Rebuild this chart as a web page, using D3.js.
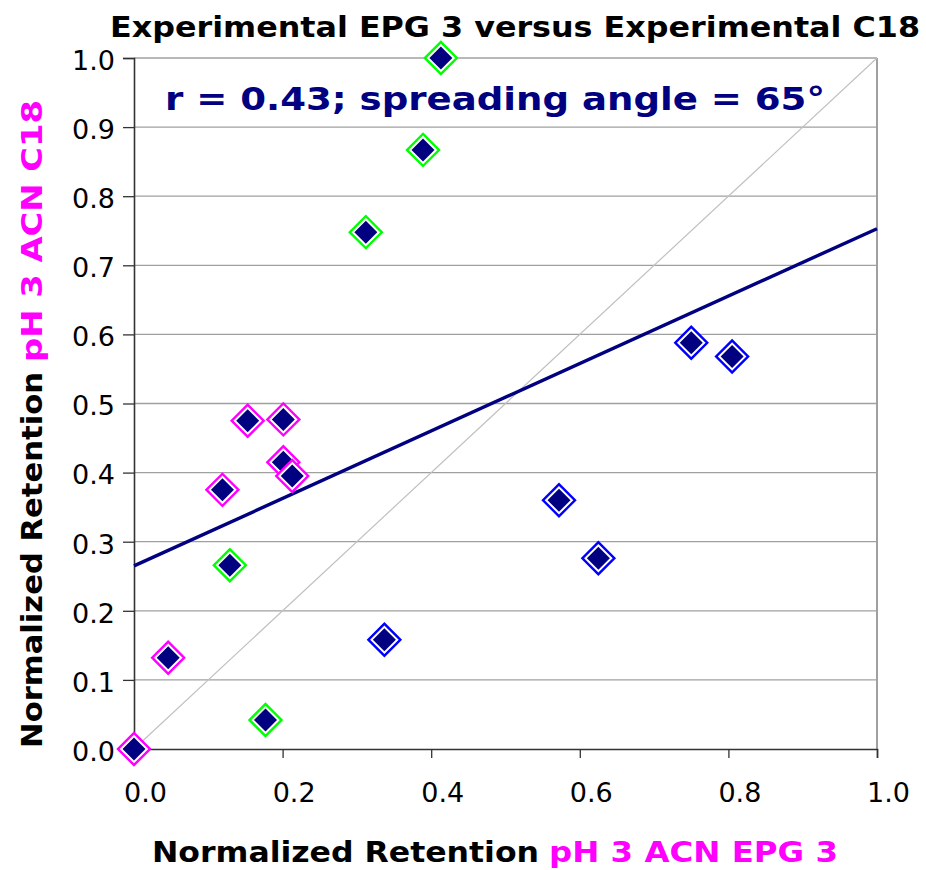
<!DOCTYPE html>
<html>
<head>
<meta charset="utf-8">
<script src="https://cdn.jsdelivr.net/npm/d3@7"></script>
<style>
  html, body { margin: 0; padding: 0; background: #fff; }
  svg { display: block; }
  text { font-family: "DejaVu Sans", Verdana, sans-serif; }
</style>
</head>
<body>
<svg id="chart" width="926" height="870"></svg>
<script>
// Normalized retention of each analyte on the two phases
const epg3 = [0.413, 0.389, 0.312, 0.750, 0.805, 0.153, 0.201, 0.201, 0.213, 0.119, 0.572, 0.625, 0.129, 0.337, 0.046, 0.177, 0.000];
const c18  = [1.000, 0.867, 0.748, 0.588, 0.568, 0.475, 0.477, 0.415, 0.395, 0.375, 0.360, 0.276, 0.266, 0.158, 0.132, 0.042, 0.000];
// Analyte class of each point (sets the outline colour)
const pointClass = ["g", "g", "g", "b", "b", "m", "m", "m", "m", "m", "b", "b", "g", "b", "m", "g", "m"];
const classColor = { g: "#00ff00", b: "#0000ff", m: "#ff00ff" };

// Linear fit shown on the chart
const fitIntercept = 0.265;
const fitSlope = 0.488;

const xTicks = [0, 0.2, 0.4, 0.6, 0.8, 1.0];
const yTicks = [0, 0.1, 0.2, 0.3, 0.4, 0.5, 0.6, 0.7, 0.8, 0.9, 1.0];

const svg = d3.select("#chart");
const L = 134, R = 877, T = 58, B = 749;

const x = d3.scaleLinear().domain([0, 1]).range([L, R]);
const y = d3.scaleLinear().domain([0, 1]).range([B, T]);

// horizontal gridlines
svg.append("g").selectAll("line").data(yTicks.filter(v => v > 0)).join("line")
  .attr("x1", L).attr("x2", R)
  .attr("y1", d => y(d)).attr("y2", d => y(d))
  .attr("stroke", "#a0a0a0").attr("stroke-width", 1.3);

// right border
svg.append("line").attr("x1", R).attr("x2", R).attr("y1", T).attr("y2", B)
  .attr("stroke", "#a0a0a0").attr("stroke-width", 2);

// y = x reference diagonal
svg.append("line")
  .attr("x1", x(0)).attr("y1", y(0)).attr("x2", x(1)).attr("y2", y(1))
  .attr("stroke", "#c0c0c0").attr("stroke-width", 1.2);

// axes
const yAxis = d3.axisLeft(y).tickValues(yTicks).tickFormat(d3.format(".1f")).tickSize(11).tickPadding(8);
const gy = svg.append("g").attr("transform", `translate(${L},0)`).call(yAxis);
gy.select(".domain").attr("stroke", "#333").attr("stroke-width", 1.6);
gy.selectAll(".tick line").attr("stroke", "#333").attr("stroke-width", 1.3);
gy.selectAll(".tick text").attr("font-size", 27).attr("fill", "#000")
  .attr("font-family", "'DejaVu Sans', Verdana, sans-serif").attr("dy", "0.42em");

const xAxis = d3.axisBottom(x).tickValues(xTicks).tickFormat(d3.format(".1f")).tickSize(9).tickPadding(24);
const gx = svg.append("g").attr("transform", `translate(0,${B})`).call(xAxis);
gx.select(".domain").attr("stroke", "#333").attr("stroke-width", 1.6);
gx.selectAll(".tick line").attr("stroke", "#333").attr("stroke-width", 1.3);
gx.selectAll(".tick text").attr("font-size", 27).attr("fill", "#000")
  .attr("font-family", "'DejaVu Sans', Verdana, sans-serif").attr("dx", 11).attr("dy", "0.75em");

// fitted line
svg.append("line")
  .attr("x1", x(0)).attr("y1", y(fitIntercept))
  .attr("x2", x(1)).attr("y2", y(fitIntercept + fitSlope))
  .attr("stroke", "#000080").attr("stroke-width", 3.4);

// markers: coloured outlined diamond with a navy diamond inside
const outer = d3.symbol(d3.symbolSquare, 2 * 16 * 16)();
const inner = d3.symbol(d3.symbolSquare, 2 * 11.5 * 11.5)();
const pts = svg.append("g").selectAll("g").data(d3.range(epg3.length)).join("g")
  .attr("transform", i => `translate(${x(epg3[i])},${y(c18[i])}) rotate(45)`);
pts.append("path").attr("d", outer).attr("fill", "#fff")
  .attr("stroke", i => classColor[pointClass[i]]).attr("stroke-width", 2.4);
pts.append("path").attr("d", inner).attr("fill", "#000080");

// annotation
svg.append("text").attr("x", 165).attr("y", 110)
  .attr("font-size", 32).attr("font-weight", "bold").attr("fill", "#000080")
  .attr("textLength", 660).attr("lengthAdjust", "spacingAndGlyphs")
  .text("r = 0.43; spreading angle = 65°");

// title
svg.append("text").attr("x", 110).attr("y", 37)
  .attr("font-size", 29).attr("font-weight", "bold").attr("fill", "#000")
  .attr("textLength", 810).attr("lengthAdjust", "spacingAndGlyphs")
  .text("Experimental EPG 3 versus Experimental C18");

// x axis title
svg.append("text").attr("x", 152).attr("y", 862)
  .attr("font-size", 28).attr("font-weight", "bold").attr("fill", "#000")
  .attr("textLength", 387).attr("lengthAdjust", "spacingAndGlyphs")
  .text("Normalized Retention");
svg.append("text").attr("x", 549).attr("y", 862)
  .attr("font-size", 28).attr("font-weight", "bold").attr("fill", "#ff00ff")
  .attr("textLength", 289).attr("lengthAdjust", "spacingAndGlyphs")
  .text("pH 3 ACN EPG 3");

// y axis title
const yt = svg.append("g").attr("transform", "translate(42,0) rotate(-90)");
yt.append("text").attr("x", -748).attr("y", 0)
  .attr("font-size", 29).attr("font-weight", "bold").attr("fill", "#000")
  .attr("textLength", 376).attr("lengthAdjust", "spacingAndGlyphs")
  .text("Normalized Retention");
yt.append("text").attr("x", -362).attr("y", 0)
  .attr("font-size", 29).attr("font-weight", "bold").attr("fill", "#ff00ff")
  .attr("textLength", 262).attr("lengthAdjust", "spacingAndGlyphs")
  .text("pH 3 ACN C18");
</script>
</body>
</html>
